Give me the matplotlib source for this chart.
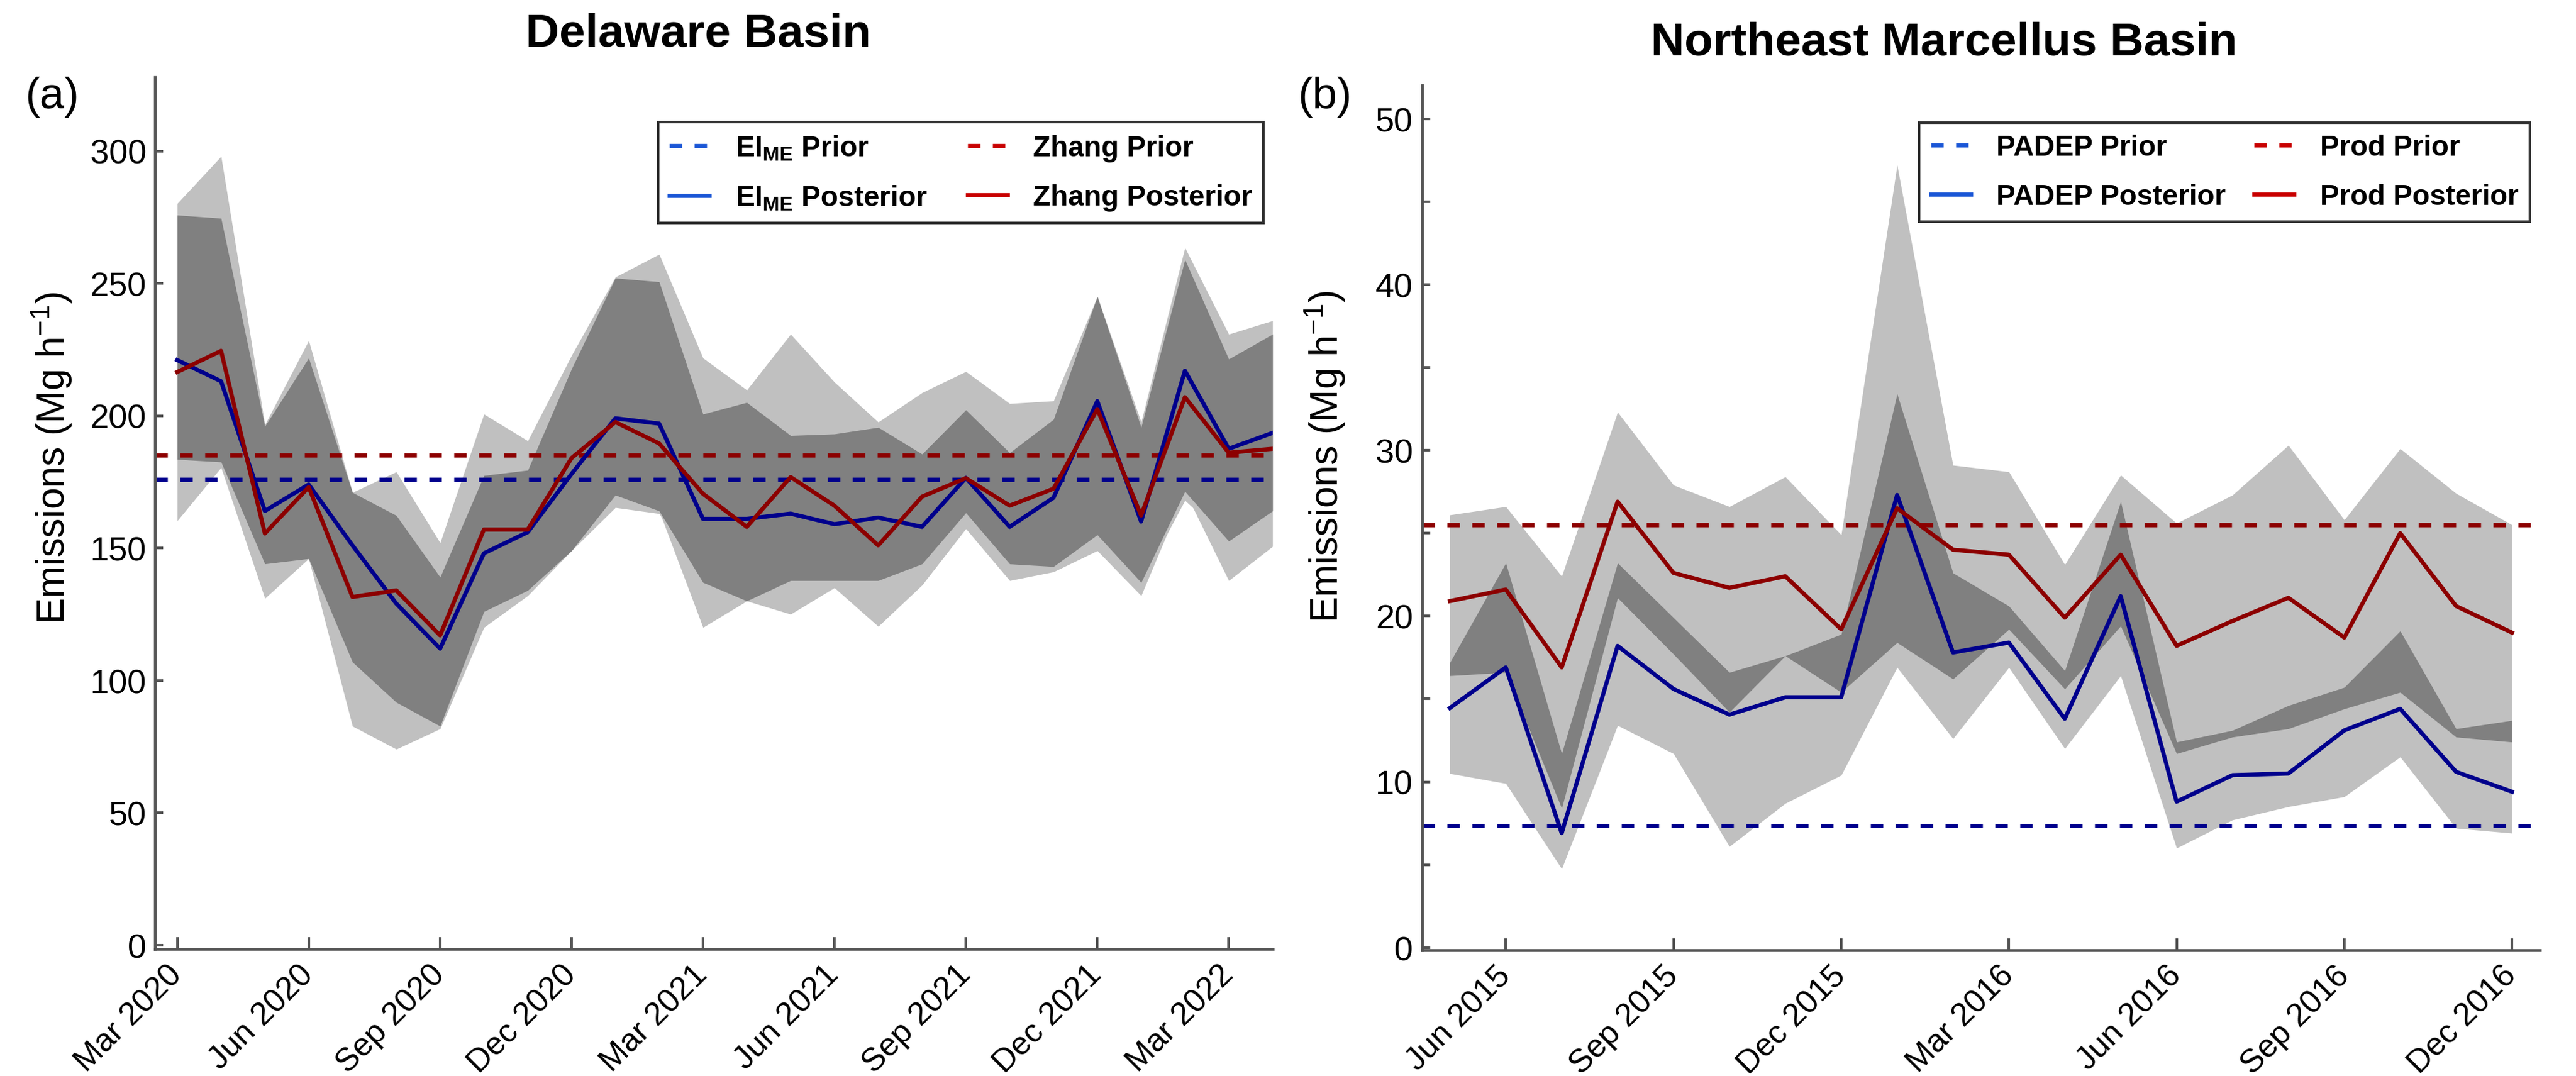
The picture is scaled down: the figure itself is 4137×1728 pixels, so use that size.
import numpy as np
import matplotlib.pyplot as plt
from matplotlib.lines import Line2D

plt.rcParams['font.family'] = 'Liberation Sans'
plt.rcParams['mathtext.fontset'] = 'custom'
plt.rcParams['mathtext.rm'] = 'Liberation Sans'
plt.rcParams['mathtext.bf'] = 'Liberation Sans:bold'

# ---------------- Delaware Basin (Mar 2020 - Apr 2022, monthly) ----------------
months_a = ['Mar 2020', 'Apr 2020', 'May 2020', 'Jun 2020', 'Jul 2020', 'Aug 2020',
            'Sep 2020', 'Oct 2020', 'Nov 2020', 'Dec 2020', 'Jan 2021', 'Feb 2021',
            'Mar 2021', 'Apr 2021', 'May 2021', 'Jun 2021', 'Jul 2021', 'Aug 2021',
            'Sep 2021', 'Oct 2021', 'Nov 2021', 'Dec 2021', 'Jan 2022', 'Feb 2022',
            'Mar 2022', 'Apr 2022']
eime_post = [221, 213, 164, 174, 151, 129, 112, 148, 156, 178, 199, 197, 161, 161,
             163, 159, 161.5, 158, 176.5, 158, 169, 205.5, 160, 217, 187.5, 193.5]
zhang_post = [216.5, 224.5, 155.5, 173, 131.5, 134, 117, 157, 157, 184, 197.6, 189.5,
              170.5, 158, 176.8, 166, 151, 169.4, 176.4, 166, 172.4, 202.5, 162.3, 207,
              186, 187.5]
eime_prior = 176
zhang_prior = 185
# uncertainty ranges of the two posteriors
eime_lo = [160.3, 180.4, 131, 146, 82.7, 74, 81.7, 120, 132, 149, 170, 164, 120, 130,
           125, 135, 120.4, 136, 157.3, 137.7, 141, 149, 132, 171.4, 137.7, 150.6]
eime_hi = [275.8, 274.6, 196, 221.8, 171, 162.3, 139, 177.4, 179.4, 217.7, 252, 250.6,
           200.6, 205, 192.5, 193.1, 195.6, 185.5, 202.2, 186, 198.6, 245, 195.6, 259,
           221.4, 230.8]
zhang_lo = [183.5, 182.5, 144, 146, 106.9, 91.7, 82.7, 126, 134, 149, 165.3, 163, 137,
            130, 137.7, 137.7, 137.7, 144, 163.3, 144, 143, 155, 137, 168, 152.6, 164]
zhang_hi = [280.2, 298, 196.6, 228.4, 171, 178.8, 152, 200.6, 190.5, 222.8, 252.4, 261,
            221.8, 209.7, 230.8, 212.7, 197.6, 208.7, 216.7, 204.6, 205.6, 245, 197.6,
            263.5, 230.8, 235.9]
ticks_a = [0, 3, 6, 9, 12, 15, 18, 21, 24]
ticklabels_a = ['Mar 2020', 'Jun 2020', 'Sep 2020', 'Dec 2020', 'Mar 2021', 'Jun 2021',
                'Sep 2021', 'Dec 2021', 'Mar 2022']

# ---------------- Northeast Marcellus (May 2015 - Dec 2016, monthly) ----------------
months_b = ['May 2015', 'Jun 2015', 'Jul 2015', 'Aug 2015', 'Sep 2015', 'Oct 2015',
            'Nov 2015', 'Dec 2015', 'Jan 2016', 'Feb 2016', 'Mar 2016', 'Apr 2016',
            'May 2016', 'Jun 2016', 'Jul 2016', 'Aug 2016', 'Sep 2016', 'Oct 2016',
            'Nov 2016', 'Dec 2016']
padep_post = [14.45, 16.9, 6.9, 18.2, 15.6, 14.05, 15.1, 15.1, 27.3, 17.8, 18.4, 13.8,
              21.2, 8.8, 10.4, 10.5, 13.1, 14.4, 10.6, 9.4]
prod_post = [20.9, 21.6, 16.9, 26.9, 22.6, 21.7, 22.4, 19.2, 26.5, 24.0, 23.7, 19.9,
             23.7, 18.2, 19.7, 21.1, 18.7, 25.0, 20.6, 19.0]
padep_prior = 7.35
prod_prior = 25.5
padep_lo = [10.5, 9.9, 4.75, 13.4, 11.7, 6.1, 8.7, 10.4, 16.9, 12.6, 16.9, 12.0, 16.4,
            6.0, 7.7, 8.5, 9.1, 11.5, 7.2, 6.9]
padep_hi = [17.2, 23.2, 11.7, 23.2, 19.9, 16.6, 17.6, 18.9, 33.4, 22.6, 20.6, 16.7, 26.9,
            12.4, 13.1, 14.6, 15.7, 19.1, 13.2, 13.7]
prod_lo = [16.4, 16.6, 8.4, 21.1, 17.7, 14.2, 17.6, 15.4, 18.4, 16.2, 19.2, 15.6, 19.4,
           11.7, 12.7, 13.2, 14.4, 15.4, 12.7, 12.4]
prod_hi = [26.1, 26.6, 22.4, 32.3, 27.9, 26.6, 28.4, 24.9, 47.2, 29.1, 28.7, 23.1, 28.5,
           25.6, 27.3, 30.3, 25.8, 30.1, 27.4, 25.5]
ticks_b = [1, 4, 7, 10, 13, 16, 19]
ticklabels_b = ['Jun 2015', 'Sep 2015', 'Dec 2015', 'Mar 2016', 'Jun 2016', 'Sep 2016',
                'Dec 2016']

# colours
light_gray = '#c0c0c0'
dark_gray = '#808080'
line_blue = '#00008c'
line_red = '#8c0000'
leg_blue = '#1a56d6'
leg_red = '#c80000'
axis_col = '#555555'


def draw_panel(ax, n, post1, post2, prior1, prior2, lo1, hi1, lo2, hi2):
    x = np.arange(n)
    lo1, hi1, lo2, hi2 = map(np.array, (lo1, hi1, lo2, hi2))
    # each posterior range in light gray, their overlap in dark gray
    ax.fill_between(x, lo1, hi1, color=light_gray, lw=0)
    ax.fill_between(x, lo2, hi2, color=light_gray, lw=0)
    ov_lo = np.maximum(lo1, lo2)
    ov_hi = np.minimum(hi1, hi2)
    ax.fill_between(x, ov_lo, ov_hi, where=ov_hi >= ov_lo, interpolate=True,
                    color=dark_gray, lw=0)
    ax.plot([-0.5, n - 0.5], [prior2, prior2], color=line_red, lw=1.6, dashes=(3, 3))
    ax.plot([-0.5, n - 0.5], [prior1, prior1], color=line_blue, lw=1.6, dashes=(3, 3))
    ax.plot(x, post1, color=line_blue, lw=1.6)
    ax.plot(x, post2, color=line_red, lw=1.6)

    for s in ['top', 'right']:
        ax.spines[s].set_visible(False)
    for s in ['left', 'bottom']:
        ax.spines[s].set_color(axis_col)
        ax.spines[s].set_linewidth(1.1)
    ax.tick_params(axis='y', which='both', direction='in', length=3, width=1.0,
                   color=axis_col, labelsize=13, pad=3.5)
    ax.tick_params(axis='x', direction='in', length=4.5, width=1.0, color=axis_col,
                   labelsize=12.5, pad=8)


def legend_panel(ax, labels, anchor, colsp):
    handles = [Line2D([], [], color=leg_blue, lw=1.6, dashes=(3, 3)),
               Line2D([], [], color=leg_blue, lw=1.6),
               Line2D([], [], color=leg_red, lw=1.6, dashes=(3, 3)),
               Line2D([], [], color=leg_red, lw=1.6)]
    leg = ax.legend(handles, labels, ncol=2, loc='upper right',
                    bbox_to_anchor=anchor, borderaxespad=0,
                    prop={'weight': 'bold', 'size': 11}, frameon=True, fancybox=False,
                    edgecolor='black', handlelength=1.4, handletextpad=0.9,
                    columnspacing=colsp, labelspacing=0.75)
    leg.get_frame().set_linewidth(1.0)


fig = plt.figure(figsize=(13.79, 5.763), dpi=300)
ax_a = fig.add_axes([0.0603, 0.118, 0.4337, 0.810])
ax_b = fig.add_axes([0.552, 0.117, 0.434, 0.803])

# panel (a)
draw_panel(ax_a, len(months_a), eime_post, zhang_post, eime_prior, zhang_prior,
           eime_lo, eime_hi, zhang_lo, zhang_hi)
ax_a.set_xlim(-0.5, len(months_a) - 1)
ax_a.set_ylim(-1.5, 328)
ax_a.set_yticks([0, 50, 100, 150, 200, 250, 300])
ax_a.set_xticks(ticks_a)
ax_a.set_xticklabels(ticklabels_a, rotation=45, ha='right', va='center',
                     rotation_mode='anchor')
ax_a.set_ylabel('Emissions (Mg h$^{-1}$)', fontsize=15)
ax_a.yaxis.set_label_coords(-0.072, 0.564)
ax_a.set_title('Delaware Basin', fontsize=18, fontweight='bold', pad=12, x=0.486)
legend_panel(ax_a, [r'EI$_\mathbf{ME}$ Prior', r'EI$_\mathbf{ME}$ Posterior',
                    'Zhang Prior', 'Zhang Posterior'], (0.992, 0.948), 1.4)

# panel (b)
draw_panel(ax_b, len(months_b), padep_post, prod_post, padep_prior, prod_prior,
           padep_lo, padep_hi, prod_lo, prod_hi)
ax_b.set_xlim(-0.5, len(months_b) - 0.5)
ax_b.set_ylim(-0.15, 52)
ax_b.set_yticks([0, 10, 20, 30, 40, 50])
ax_b.set_yticks([5, 15, 25, 35, 45], minor=True)
ax_b.set_xticks(ticks_b)
ax_b.set_xticklabels(ticklabels_b, rotation=45, ha='right', va='center',
                     rotation_mode='anchor')
ax_b.set_ylabel('Emissions (Mg h$^{-1}$)', fontsize=15)
ax_b.yaxis.set_label_coords(-0.066, 0.571)
ax_b.set_title('Northeast Marcellus Basin', fontsize=18, fontweight='bold', pad=12, x=0.467)
legend_panel(ax_b, ['PADEP Prior', 'PADEP Posterior', 'Prod Prior', 'Prod Posterior'],
             (0.991, 0.957), 1.0)

fig.text(0.0097, 0.929, '(a)', fontsize=17, va='top', ha='left')
fig.text(0.504, 0.929, '(b)', fontsize=17, va='top', ha='left')

fig.savefig('out.png', dpi=300)
